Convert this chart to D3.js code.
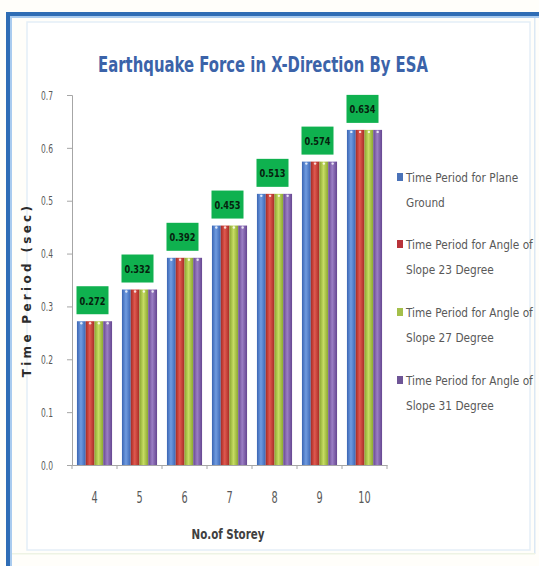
<!DOCTYPE html>
<html>
<head>
<meta charset="utf-8">
<script src="https://cdn.jsdelivr.net/npm/d3@7"></script>
<style>
  html, body { margin: 0; padding: 0; background: #ffffff; }
  svg { display: block; }
</style>
</head>
<body>
<svg id="chart" width="539" height="566"></svg>
<script>
// Storey counts on the x axis
const storeys = ["4", "5", "6", "7", "8", "9", "10"];
// Time period (sec) per slope case
const planeGround = [0.272, 0.332, 0.392, 0.453, 0.513, 0.574, 0.634];
const slope23 = [0.272, 0.332, 0.392, 0.453, 0.513, 0.574, 0.634];
const slope27 = [0.272, 0.332, 0.392, 0.453, 0.513, 0.574, 0.634];
const slope31 = [0.272, 0.332, 0.392, 0.453, 0.513, 0.574, 0.634];
// Values printed in the green call-outs
const labelValues = [0.272, 0.332, 0.392, 0.453, 0.513, 0.574, 0.634];
const seriesNames = [
  ["Time Period for Plane", "Ground"],
  ["Time Period for Angle of", "Slope 23 Degree"],
  ["Time Period for Angle of", "Slope 27 Degree"],
  ["Time Period for Angle of", "Slope 31 Degree"]
];
const yTicks = [0, 0.1, 0.2, 0.3, 0.4, 0.5, 0.6, 0.7];

const series = [planeGround, slope23, slope27, slope31];
const colors = [
  { mid: "#6f9be0", edge: "#3a65b3" },
  { mid: "#e0584f", edge: "#a52a24" },
  { mid: "#c6dc62", edge: "#8aa630" },
  { mid: "#9b7fc4", edge: "#654590" }
];
const legendColors = ["#4a72b8", "#b8333a", "#a4bf4a", "#6e5596"];

const font = "'DejaVu Sans', sans-serif";

// Narrow a text horizontally around its own anchor point
function condense(sel, factor) {
  sel.each(function () {
    const t = d3.select(this);
    const ax = +t.attr("x") || 0, ay = +t.attr("y") || 0;
    t.attr("transform", `translate(${ax},${ay}) scale(${factor},1) translate(${-ax},${-ay})`);
  });
}

const svg = d3.select("#chart");
const defs = svg.append("defs");
colors.forEach((c, i) => {
  const g = defs.append("linearGradient").attr("id", "bar" + i)
    .attr("x1", "0%").attr("x2", "100%").attr("y1", "0%").attr("y2", "0%");
  g.append("stop").attr("offset", "0%").attr("stop-color", c.edge);
  g.append("stop").attr("offset", "45%").attr("stop-color", c.mid);
  g.append("stop").attr("offset", "100%").attr("stop-color", c.edge);
});

// Frame: blue top and left rails, faint inner panel border
svg.append("rect").attr("x", 0).attr("y", 0).attr("width", 539).attr("height", 566).attr("fill", "#fffefa");
svg.append("rect").attr("x", 27).attr("y", 22).attr("width", 503).attr("height", 528)
  .attr("fill", "#ffffff").attr("stroke", "#e4eef7").attr("stroke-width", 1.5);
svg.append("rect").attr("x", 6).attr("y", 12).attr("width", 533).attr("height", 4).attr("fill", "#2f6db5");
svg.append("rect").attr("x", 6).attr("y", 16).attr("width", 533).attr("height", 2).attr("fill", "#a9cbef");
svg.append("rect").attr("x", 6).attr("y", 12).attr("width", 4).attr("height", 554).attr("fill", "#2f6db5");
svg.append("rect").attr("x", 10).attr("y", 16).attr("width", 2).attr("height", 550).attr("fill", "#a9cbef");
svg.append("rect").attr("x", 534).attr("y", 18).attr("width", 1.5).attr("height", 536).attr("fill", "#dbe8f4");
svg.append("rect").attr("x", 12).attr("y", 553).attr("width", 523).attr("height", 1.5).attr("fill", "#eef3e4");

const plotLeft = 72, plotRight = 387, plotTop = 95, plotBottom = 465;

const x = d3.scaleBand().domain(storeys).range([plotLeft, plotRight]).paddingInner(0.22).paddingOuter(0.11);
const xOuter = d3.scaleBand().domain(storeys).range([plotLeft, plotRight]);
const xs = d3.scaleBand().domain(d3.range(4)).range([0, x.bandwidth()]);
const y = d3.scaleLinear().domain([0, 0.7]).range([plotBottom, plotTop]);

// Title
const title = svg.append("text")
  .attr("x", 263).attr("y", 72)
  .attr("text-anchor", "middle")
  .attr("font-family", font)
  .attr("font-weight", "bold")
  .attr("font-size", 22)
  .attr("fill", "#3b63a9")
  .text("Earthquake Force in X-Direction By ESA");
title.call(condense, 330 / title.node().getComputedTextLength());

// Y axis
const yAxis = svg.append("g").attr("transform", `translate(${plotLeft},0)`)
  .call(d3.axisLeft(y).tickValues(yTicks).tickFormat(d3.format(".1f")).tickSize(5).tickPadding(14));
yAxis.select(".domain").attr("stroke", "#a6a6a6");
yAxis.selectAll(".tick line").attr("stroke", "#a6a6a6");
yAxis.selectAll(".tick text").attr("font-family", font).attr("font-size", 13).attr("fill", "#595959")
  .call(condense, 0.58);

// X axis with ticks on category boundaries
const xAxis = svg.append("g").attr("transform", `translate(0,${plotBottom})`)
  .call(d3.axisBottom(xOuter).tickSize(0).tickPadding(27));
xAxis.select(".domain").attr("stroke", "#a6a6a6");
xAxis.selectAll(".tick text").attr("font-family", font).attr("font-size", 15).attr("fill", "#595959")
  .call(condense, 0.65);
xAxis.selectAll(".boundary").data(d3.range(storeys.length + 1)).join("line")
  .attr("x1", i => plotLeft + i * xOuter.step()).attr("x2", i => plotLeft + i * xOuter.step())
  .attr("y1", 0).attr("y2", 4).attr("stroke", "#a6a6a6");

// Axis titles
svg.append("text")
  .attr("transform", "translate(31,290) rotate(-90)")
  .attr("text-anchor", "middle")
  .attr("font-family", font)
  .attr("font-weight", "bold").attr("font-size", 12)
  .attr("letter-spacing", 3.3)
  .attr("fill", "#2b2b2b")
  .text("Time Period (sec)");
const xTitle = svg.append("text")
  .attr("x", 228).attr("y", 539)
  .attr("text-anchor", "middle")
  .attr("font-family", font)
  .attr("font-weight", "bold").attr("font-size", 14)
  .attr("fill", "#404040")
  .text("No.of Storey");
xTitle.call(condense, 73 / xTitle.node().getComputedTextLength());

// Bars
const groups = svg.append("g").selectAll("g").data(storeys).join("g")
  .attr("transform", d => `translate(${x(d)},0)`);
series.forEach((vals, s) => {
  groups.append("rect")
    .attr("x", xs(s))
    .attr("width", xs.bandwidth())
    .attr("y", (d, i) => y(vals[i]))
    .attr("height", (d, i) => y(0) - y(vals[i]))
    .attr("fill", `url(#bar${s})`);
  groups.append("circle")
    .attr("cx", xs(s) + xs.bandwidth() / 2)
    .attr("cy", (d, i) => y(vals[i]) + 2)
    .attr("r", 1.2)
    .attr("fill", "#ffffff").attr("opacity", 0.8);
});

// Value call-outs
const labels = svg.append("g").selectAll("g").data(storeys).join("g")
  .attr("transform", (d, i) => `translate(${x(d) + x.bandwidth() / 2 - 2},${y(labelValues[i]) - 7})`);
labels.append("rect")
  .attr("x", -16).attr("y", -28).attr("width", 32).attr("height", 28)
  .attr("fill", "#0fb14f");
const valueText = labels.append("text")
  .attr("x", 0).attr("y", -9.5)
  .attr("text-anchor", "middle")
  .attr("font-family", font)
  .attr("font-weight", "bold")
  .attr("font-size", 11)
  .attr("fill", "#06220e")
  .text((d, i) => d3.format(".3f")(labelValues[i]));
valueText.call(condense, 26 / valueText.node().getComputedTextLength());

// Legend
const legendY = [178, 245, 313, 381];
const legend = svg.append("g").selectAll("g").data(seriesNames).join("g")
  .attr("transform", (d, i) => `translate(397,${legendY[i]})`);
legend.append("rect")
  .attr("x", 0).attr("y", -5).attr("width", 6).attr("height", 8)
  .attr("fill", (d, i) => legendColors[i]);
const line1 = legend.append("text")
  .attr("x", 9).attr("y", 4)
  .attr("font-family", font).attr("font-size", 13).attr("fill", "#595959")
  .text(d => d[0]);
const line2 = legend.append("text")
  .attr("x", 9).attr("y", 29)
  .attr("font-family", font).attr("font-size", 13).attr("fill", "#595959")
  .text(d => d[1]);
// one squeeze factor for the whole legend, set by its longest line
const longest = d3.max(line1.nodes(), n => n.getComputedTextLength());
const legendFactor = 127 / longest;
line1.call(condense, legendFactor);
line2.call(condense, legendFactor);
</script>
</body>
</html>
